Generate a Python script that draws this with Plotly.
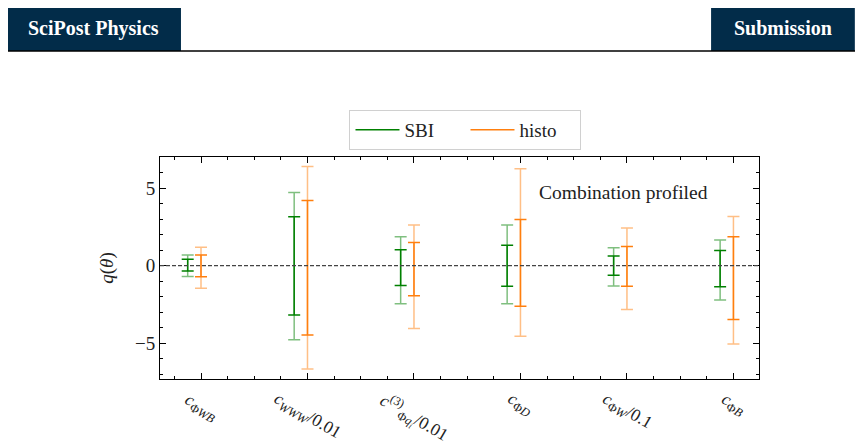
import plotly.graph_objects as go

# Wilson coefficients (tick labels) and their positions on the x axis
labels = [
    "<i>c</i><sub>Φ<i>WB</i></sub>",
    "<i>c</i><sub><i>WWW</i></sub>/0.01",
    "<i>c</i><sup>(3)</sup><sub>Φ<i>q<sub>i</sub></i></sub>/0.01",
    "<i>c</i><sub>Φ<i>D</i></sub>",
    "<i>c</i><sub>Φ<i>W</i></sub>/0.1",
    "<i>c</i><sub>Φ<i>B</i></sub>",
]
xpos = [0, 1, 2, 3, 4, 5]
sbi_offset = -0.125
centre = [0, 0, 0, 0, 0, 0]

# SBI intervals: inner (1 sigma) and outer (2 sigma)
sbi_in_up = [0.41, 3.15, 1.03, 1.31, 0.62, 0.97]
sbi_in_lo = [0.34, 3.18, 1.27, 1.33, 0.62, 1.35]
sbi_out_up = [0.69, 4.72, 1.87, 2.62, 1.16, 1.65]
sbi_out_lo = [0.69, 4.77, 2.45, 2.45, 1.31, 2.21]

# histogram intervals
his_in_up = [0.69, 4.20, 1.50, 2.98, 1.24, 1.87]
his_in_lo = [0.71, 4.46, 1.93, 2.62, 1.33, 3.46]
his_out_up = [1.18, 6.39, 2.62, 6.25, 2.43, 3.17]
his_out_lo = [1.46, 6.65, 4.04, 4.55, 2.83, 5.04]

GREEN = "#008000"
GREEN_L = "rgba(0,128,0,0.5)"
ORANGE = "#ff7f0e"
ORANGE_L = "rgba(255,127,14,0.5)"
FONT = "Liberation Serif"
TXT = "#222"

sbi_x = [x + sbi_offset for x in xpos]

fig = go.Figure()


def bars(x, up, lo, col):
    fig.add_trace(go.Scatter(
        x=x, y=centre, mode="markers",
        marker=dict(size=1, color="rgba(0,0,0,0)"),
        error_y=dict(type="data", symmetric=False, array=up, arrayminus=lo,
                     color=col, thickness=1.5, width=6),
        showlegend=False, hoverinfo="skip"))


bars(sbi_x, sbi_out_up, sbi_out_lo, GREEN_L)
bars(sbi_x, sbi_in_up, sbi_in_lo, GREEN)
bars(xpos, his_out_up, his_out_lo, ORANGE_L)
bars(xpos, his_in_up, his_in_lo, ORANGE)

# legend entries
fig.add_trace(go.Scatter(x=[None], y=[None], mode="lines", name="SBI",
                         line=dict(color=GREEN, width=1.5)))
fig.add_trace(go.Scatter(x=[None], y=[None], mode="lines", name="histo",
                         line=dict(color=ORANGE, width=1.5)))

# zero line
fig.add_shape(type="line", xref="paper", x0=0, x1=1, y0=0, y1=0,
              line=dict(color="#444", width=1.2, dash="4px,2px"))

# rotated x labels
for x, lab in zip(xpos, labels):
    fig.add_annotation(x=x, y=-0.03, xref="x", yref="paper", text=lab,
                       textangle=30, showarrow=False, xanchor="center",
                       yanchor="top", font=dict(family=FONT, size=17.5, color=TXT))

fig.add_annotation(x=0.629, y=0.842, xref="paper", yref="paper",
                   text="Combination profiled", showarrow=False,
                   xanchor="left", yanchor="middle",
                   font=dict(family=FONT, size=19.5, color=TXT))

# page header
NAVY = "#022c49"
fig.add_shape(type="rect", xref="paper", yref="paper", x0=-0.257, x1=0.035,
              y0=1.477, y1=1.680, fillcolor=NAVY, line=dict(width=0), layer="below")
fig.add_shape(type="rect", xref="paper", yref="paper", x0=0.920, x1=1.160,
              y0=1.477, y1=1.680, fillcolor=NAVY, line=dict(width=0), layer="below")
fig.add_shape(type="line", xref="paper", yref="paper", x0=-0.257, x1=1.165,
              y0=1.477, y1=1.477, line=dict(color="black", width=1.5))
fig.add_annotation(x=-0.111, y=1.58, xref="paper", yref="paper",
                   text="<b>SciPost Physics</b>", showarrow=False,
                   xanchor="center", yanchor="middle",
                   font=dict(family=FONT, size=20, color="white"))
fig.add_annotation(x=1.040, y=1.58, xref="paper", yref="paper",
                   text="<b>Submission</b>", showarrow=False,
                   xanchor="center", yanchor="middle",
                   font=dict(family=FONT, size=20, color="white"))

axis_common = dict(showline=True, linecolor="black", linewidth=1, mirror="allticks",
                   ticks="inside", ticklen=6, tickcolor="black", showgrid=False,
                   zeroline=False)

fig.update_xaxes(range=[-0.385, 5.24], tickvals=xpos, showticklabels=False,
                 minor=dict(dtick=0.25, tick0=0, ticks="inside", ticklen=3,
                            tickcolor="black"),
                 **axis_common)
fig.update_yaxes(range=[-7.3, 7.0], tickvals=[-5, 0, 5], ticktext=["−5", "0", "5"],
                 minor=dict(dtick=1, tick0=0, ticks="inside", ticklen=3,
                            tickcolor="black"),
                 title=dict(text="<i>q</i>(<i>θ</i>)", standoff=16,
                            font=dict(family=FONT, size=19, color=TXT)),
                 tickfont=dict(family=FONT, size=19, color=TXT),
                 **axis_common)

# the page body adds 8px around the figure, so margins are shifted by that
fig.update_layout(
    width=863, height=443,
    margin=dict(l=152, r=112, t=149, b=72),
    paper_bgcolor="white", plot_bgcolor="white",
    legend=dict(orientation="h", x=0.51, y=1.212, xanchor="center", yanchor="top",
                bordercolor="#d0d0d0", borderwidth=1, itemwidth=44, entrywidth=56,
                font=dict(family=FONT, size=19, color=TXT)),
)

fig.write_html("out.html")
